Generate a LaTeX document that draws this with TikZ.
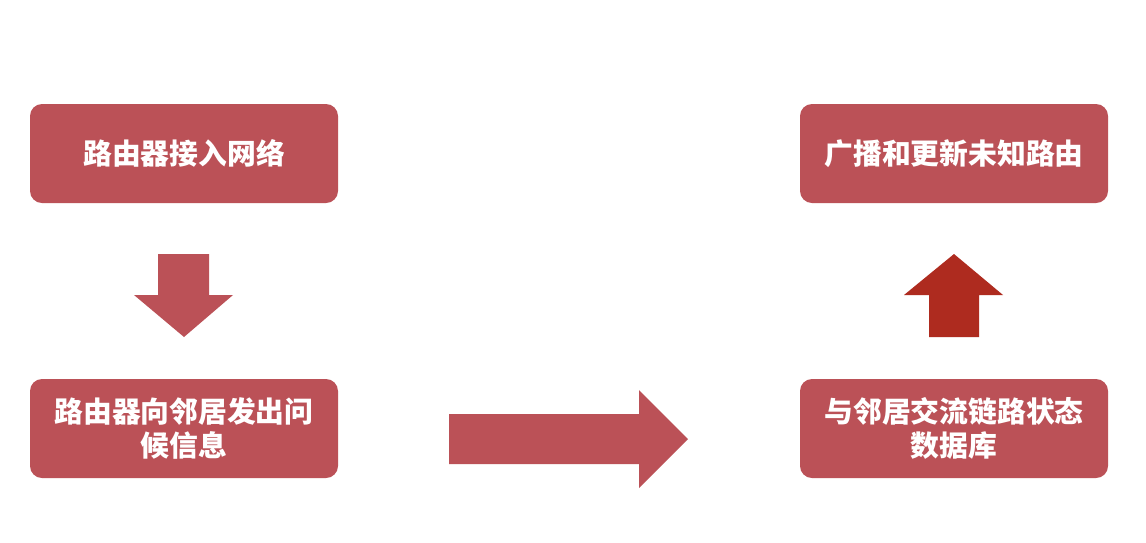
\documentclass[tikz,border=0pt]{standalone}
\usepackage{fontspec}
\newfontfamily\cjk{Noto Sans CJK SC}
\definecolor{boxred}{HTML}{BB5157}
\definecolor{darkred}{HTML}{AE2B1F}
\begin{document}
\begin{tikzpicture}[x=1pt,y=-1pt,
  stepbox/.style={fill=boxred, rounded corners=12pt, minimum width=308pt, minimum height=99pt,
    inner sep=0pt, text=white, align=center, text width=296pt,
    font=\cjk\bfseries\fontsize{28.8}{34}\selectfont},
  arrowfill/.style={fill=boxred},
  uparrowfill/.style={fill=darkred}]
\useasboundingbox (0,0) rectangle (1146,542);
\fill[white] (0,0) rectangle (1146,542);
\node[stepbox] (a) at (184,153.5) {\raisebox{-1.5pt}{路由器接入网络}};
\node[stepbox] (b) at (184,428.5) {路由器向邻居发出问\\候信息};
\node[stepbox] (c) at (954,428.5) {与邻居交流链路状态\\数据库};
\node[stepbox] (d) at (954,153.5) {\raisebox{-1.5pt}{广播和更新未知路由}};
% down arrow
\fill[arrowfill] (158,254) -- (209,254) -- (209,295) -- (233,295) -- (184,337) -- (134,295) -- (158,295) -- cycle;
% right arrow
\fill[arrowfill] (449,414) -- (639,414) -- (639,390) -- (688,439) -- (639,488) -- (639,464) -- (449,464) -- cycle;
% up arrow
\fill[uparrowfill] (929,337) -- (979,337) -- (979,295) -- (1003,295) -- (954,254) -- (904,295) -- (929,295) -- cycle;
\end{tikzpicture}
\end{document}
